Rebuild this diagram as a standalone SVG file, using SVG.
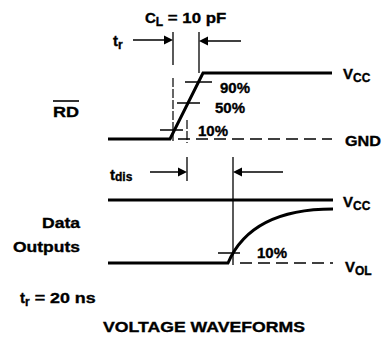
<svg xmlns="http://www.w3.org/2000/svg" width="387" height="345" viewBox="0 0 387 345">
<style>
text{font-family:"Liberation Sans",Arial,sans-serif;font-weight:bold;fill:#000;font-size:15px;stroke:#000;stroke-width:0.35}
.s{font-size:12px}
.w{fill:none;stroke:#000;stroke-width:3}
.t{fill:none;stroke:#000;stroke-width:1.5}
.d{fill:none;stroke:#000;stroke-width:1.5;stroke-dasharray:12,6}
.v{fill:none;stroke:#000;stroke-width:1.3}
.vd{fill:none;stroke:#000;stroke-width:1.2;stroke-dasharray:9,2}
</style>
<rect width="387" height="345" fill="#fff"/>
<g id="labels">
<text x="145" y="23">C<tspan class="s" dy="3">L</tspan><tspan dy="-3" textLength="63" lengthAdjust="spacingAndGlyphs"> = 10 pF</tspan></text>
<text x="113" y="46">t<tspan class="s" dy="3">r</tspan></text>
<text x="110" y="180">t<tspan class="s" dy="1">dis</tspan></text>
<text x="53" y="117" textLength="26" lengthAdjust="spacingAndGlyphs">RD</text>
<line x1="53" y1="101" x2="79" y2="101" stroke="#000" stroke-width="1.6"/>
<text x="42" y="228" textLength="38" lengthAdjust="spacingAndGlyphs">Data</text>
<text x="13" y="252" textLength="67" lengthAdjust="spacingAndGlyphs">Outputs</text>
<text x="20" y="303">t<tspan class="s" dy="3">r</tspan><tspan dy="-3" textLength="66" lengthAdjust="spacingAndGlyphs"> = 20 ns</tspan></text>
<text x="103" y="332" textLength="202" lengthAdjust="spacingAndGlyphs">VOLTAGE WAVEFORMS</text>
<text x="220" y="93" font-size="14">90%</text>
<text x="215" y="113" font-size="14">50%</text>
<text x="198" y="136" font-size="14">10%</text>
<text x="257" y="258" font-size="14">10%</text>
<text x="343" y="79">V<tspan class="s" dy="3">CC</tspan></text>
<text x="345" y="146" textLength="36" lengthAdjust="spacingAndGlyphs">GND</text>
<text x="343" y="207">V<tspan class="s" dy="3">CC</tspan></text>
<text x="345" y="272">V<tspan class="s" dy="3">OL</tspan></text>
</g>
<g id="waveform-rd">
<path class="w" d="M108,139 H170 L203,73 H332"/>
<line class="d" x1="178" y1="139" x2="332" y2="139"/>
<line class="t" x1="185" y1="82" x2="212" y2="82"/>
<line class="t" x1="177" y1="103" x2="200" y2="103"/>
<line class="t" x1="160" y1="130" x2="183" y2="130"/>
</g>
<g id="waveform-data">
<line class="w" x1="108" y1="200" x2="333" y2="200"/>
<path class="w" d="M108,263 H228 C243,228 278,209 333,209"/>
<line class="t" x1="218" y1="253" x2="240" y2="253"/>
<line class="d" x1="240" y1="263" x2="333" y2="263"/>
</g>
<g id="connectors">
<line class="v" x1="173" y1="32" x2="173" y2="65"/>
<line class="vd" x1="173" y1="78" x2="173" y2="141"/>
<line class="v" x1="199" y1="32" x2="199" y2="73"/>
<line class="vd" x1="187" y1="120" x2="187" y2="143"/>
<line class="t" x1="133" y1="40" x2="166" y2="40"/>
<polygon points="173,40 164,35.5 164,44.5"/>
<line class="t" x1="241" y1="41" x2="206" y2="41"/>
<polygon points="199,41 208,36.5 208,45.5"/>
<line class="v" x1="187" y1="157" x2="187" y2="181"/>
<line class="t" x1="150" y1="172" x2="180" y2="172"/>
<polygon points="187,172 178,167.5 178,176.5"/>
<line class="v" x1="233" y1="157" x2="233" y2="265"/>
<line class="t" x1="283" y1="172" x2="240" y2="172"/>
<polygon points="233,172 242,167.5 242,176.5"/>
</g>
</svg>
